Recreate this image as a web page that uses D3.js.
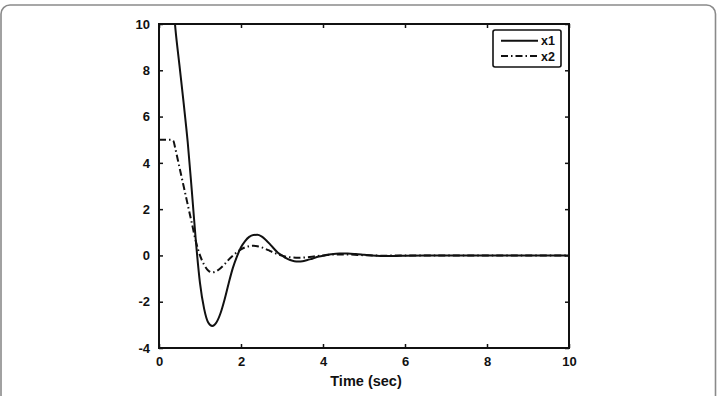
<!DOCTYPE html>
<html>
<head>
<meta charset="utf-8">
<title>x1 / x2 response</title>
<script src="https://d3js.org/d3.v7.min.js"></script>
<style>
  body { margin: 0; background: #fff; }
  text { font-family: "Liberation Sans", Arial, sans-serif; font-weight: bold; fill: #111; }
</style>
</head>
<body>
<div id="my_dataviz"></div>
<script>

// time samples (sec) and the two state traces
var t1 = [0, 0.1, 0.2, 0.3, 0.4, 0.5, 0.6, 0.7, 0.8, 0.9, 1.0, 1.1, 1.2, 1.3, 1.4, 1.5, 1.6, 1.7, 1.8, 1.9,
          2.0, 2.1, 2.2, 2.3, 2.4, 2.5, 2.6, 2.7, 2.8, 2.9, 3.0, 3.1, 3.2, 3.3, 3.4, 3.5, 3.6, 3.7, 3.8, 3.9,
          4.0, 4.2, 4.4, 4.6, 4.8, 5.0, 5.2, 5.4, 5.6, 5.8, 6.0, 6.5, 7, 8, 10];
var x1 = [17.5, 16.5, 14.5, 12, 9.8, 8.2, 6.6, 4.9, 2.8, 0.6, -1.2, -2.3, -2.9, -3.05, -2.9, -2.5, -1.9, -1.2, -0.55, -0.05,
          0.35, 0.62, 0.8, 0.88, 0.89, 0.82, 0.68, 0.5, 0.3, 0.12, 0, -0.12, -0.2, -0.25, -0.26, -0.25, -0.21, -0.16, -0.1, -0.05,
          -0.01, 0.05, 0.08, 0.08, 0.06, 0.03, 0, -0.02, -0.03, -0.02, -0.01, 0, 0, 0, 0];

var t2 = [0, 0.1, 0.2, 0.3, 0.35, 0.4, 0.5, 0.6, 0.7, 0.8, 0.9, 1.0, 1.1, 1.2, 1.3, 1.4, 1.5, 1.6, 1.7, 1.8, 1.9,
          2.0, 2.1, 2.2, 2.3, 2.4, 2.5, 2.6, 2.7, 2.8, 2.9, 3.0, 3.2, 3.4, 3.6, 3.8, 4.0, 4.3, 4.6, 5.0, 5.5, 6, 10];
var x2 = [5, 5, 5, 5, 4.95, 4.6, 3.8, 3.0, 2.2, 1.4, 0.6, 0, -0.4, -0.65, -0.73, -0.68, -0.55, -0.38, -0.18, -0.01, 0.14,
          0.26, 0.35, 0.4, 0.42, 0.4, 0.35, 0.28, 0.2, 0.12, 0.05, -0.01, -0.08, -0.1, -0.08, -0.04, 0, 0.04, 0.04, 0.01, -0.01, 0, 0];

var xTicks = [0, 2, 4, 6, 8, 10];
var yTicks = [-4, -2, 0, 2, 4, 6, 8, 10];
var seriesNames = ["x1", "x2"];

// dimensions
var W = 717, H = 396;
var margin = {top: 24, right: 148, bottom: 48, left: 159},
    width = W - margin.left - margin.right,
    height = H - margin.top - margin.bottom;

var root = d3.select("#my_dataviz")
    .append("svg")
    .attr("width", W)
    .attr("height", H);

// outer rounded frame (bottom edge runs off the image)
root.append("rect")
    .attr("x", 1).attr("y", 5)
    .attr("width", W - 2.5).attr("height", H + 20)
    .attr("rx", 9)
    .attr("fill", "none")
    .attr("stroke", "#8a8a8a")
    .attr("stroke-width", 1.6);

var svg = root.append("g")
    .attr("transform", "translate(" + margin.left + "," + margin.top + ")");

var x = d3.scaleLinear().domain([0, 10]).range([0, width]);
var y = d3.scaleLinear().domain([-4, 10]).range([height, 0]);

svg.append("clipPath").attr("id", "clip")
  .append("rect").attr("width", width).attr("height", height);

// lines
var line = d3.line()
    .x(function(d) { return x(d[0]); })
    .y(function(d) { return y(d[1]); })
    .curve(d3.curveMonotoneX);

var g = svg.append("g").attr("clip-path", "url(#clip)");

g.append("path")
    .datum(d3.zip(t2, x2))
    .attr("d", line)
    .attr("fill", "none")
    .attr("stroke", "#111")
    .attr("stroke-width", 2)
    .attr("stroke-dasharray", "7,3,1.5,3");

g.append("path")
    .datum(d3.zip(t1, x1))
    .attr("d", line)
    .attr("fill", "none")
    .attr("stroke", "#111")
    .attr("stroke-width", 2);

// axes, ticks inward on all four sides (plain hyphen for negatives, like matlab)
var tickLen = 4;
var fmt = function(d) { return String(d); };
svg.append("g")
    .attr("transform", "translate(0," + height + ")")
    .call(d3.axisBottom(x).tickValues(xTicks).tickSizeInner(-tickLen).tickSizeOuter(0).tickPadding(9).tickFormat(fmt));
svg.append("g")
    .call(d3.axisTop(x).tickValues(xTicks).tickSizeInner(-tickLen).tickSizeOuter(0).tickFormat(""));
svg.append("g")
    .call(d3.axisLeft(y).tickValues(yTicks).tickSizeInner(-tickLen).tickSizeOuter(0).tickPadding(9).tickFormat(fmt));
svg.append("g")
    .attr("transform", "translate(" + width + ",0)")
    .call(d3.axisRight(y).tickValues(yTicks).tickSizeInner(-tickLen).tickSizeOuter(0).tickFormat(""));

svg.selectAll(".domain").remove();
svg.selectAll(".tick line").attr("stroke", "#111").attr("stroke-width", 1.5);
svg.selectAll(".tick text").style("font-size", "13px").attr("fill", "#111");

// plot box
svg.append("rect")
    .attr("width", width).attr("height", height)
    .attr("fill", "none")
    .attr("stroke", "#111")
    .attr("stroke-width", 2);

// axis title
svg.append("text")
    .attr("x", width / 2 + 2)
    .attr("y", height + 38)
    .attr("text-anchor", "middle")
    .style("font-size", "14.5px")
    .text("Time (sec)");

// legend
var leg = svg.append("g").attr("transform", "translate(" + (width - 76) + ",6)");
leg.append("rect")
    .attr("width", 68).attr("height", 37)
    .attr("rx", 2)
    .attr("fill", "#fff")
    .attr("stroke", "#111")
    .attr("stroke-width", 1.6);
seriesNames.forEach(function(name, i) {
    var yy = 10.7 + i * 15.3;
    leg.append("line")
        .attr("x1", 8).attr("x2", 45)
        .attr("y1", yy).attr("y2", yy)
        .attr("stroke", "#111")
        .attr("stroke-width", 2)
        .attr("stroke-dasharray", i === 1 ? "7,3,1.5,3" : null);
    leg.append("text")
        .attr("x", 48).attr("y", yy + 4.5)
        .style("font-size", "12.5px")
        .text(name);
});

</script>
</body>
</html>
